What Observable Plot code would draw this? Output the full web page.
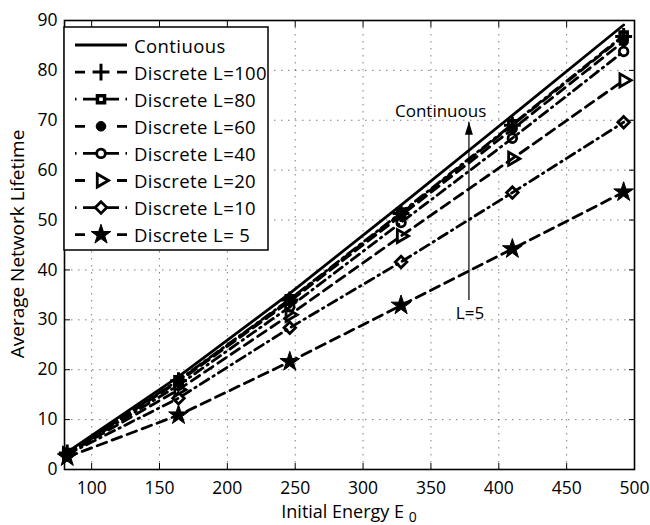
<!DOCTYPE html>
<html><head><meta charset="utf-8">
<script src="https://cdn.jsdelivr.net/npm/d3@7"></script>
<script src="https://cdn.jsdelivr.net/npm/@observablehq/plot@0.6"></script>
<style>body{margin:0;background:#fff;} #chart{width:650px;height:525px;}</style>
</head><body><div id="chart"></div>
<script>
// ---- data ----
const energy = [82, 164, 246, 328, 410, 492];
const continuous = [3.5, 18.6, 35.3, 53.0, 71.0, 89.1];
const discreteL100 = [3.3, 17.8, 34.0, 51.3, 69.0, 86.8];
const discreteL80 = [3.3, 17.9, 34.1, 51.5, 69.2, 87.0];
const discreteL60 = [3.3, 17.6, 33.7, 50.9, 68.2, 85.8];
const discreteL40 = [3.2, 16.9, 32.6, 49.5, 66.4, 83.8];
const discreteL20 = [3.1, 16.0, 31.0, 46.8, 62.3, 78.0];
const discreteL10 = [3.0, 14.3, 28.4, 41.6, 55.5, 69.6];
const discreteL5 = [2.5, 10.9, 21.6, 32.9, 44.2, 55.6];
const seriesNames = ["Contiuous", "Discrete L=100", "Discrete L=80", "Discrete L=60",
  "Discrete L=40", "Discrete L=20", "Discrete L=10", "Discrete L= 5"];
const seriesValues = [continuous, discreteL100, discreteL80, discreteL60,
  discreteL40, discreteL20, discreteL10, discreteL5];
const xTicks = [100, 150, 200, 250, 300, 350, 400, 450, 500];
const yTicks = [0, 10, 20, 30, 40, 50, 60, 70, 80, 90];
const arrowEnergy = [378];
const arrowFrom = [34];
const arrowTo = [69.7];
const noteTexts = ["Continuous", "L=5"];
const noteEnergy = [323.5, 378.8];
const noteValue = [71.8, 31.2];

// ---- styles ----
const DASH = "10,6", DASHDOT = "10,5,1.5,5";
const styles = [
  {dash: null, symbol: null},
  {dash: DASH, symbol: "plus", r: 5.5, fill: "none", sw: 3},
  {dash: DASHDOT, symbol: "square", r: 4, fill: "none", sw: 3.5},
  {dash: DASH, symbol: "circle", r: 4.8, fill: "black", sw: 1},
  {dash: DASHDOT, symbol: "circle", r: 4.3, fill: "none", sw: 2.8},
  {dash: DASH, symbol: "triangle", r: 4.8, fill: "none", sw: 2.8, rotate: 90},
  {dash: DASHDOT, symbol: "diamond2", r: 5.2, fill: "none", sw: 2.8},
  {dash: DASH, symbol: "star", r: 6.2, fill: "black", sw: 1}
];

const rows = seriesNames.map((name, i) => energy.map((e, j) => ({series: name, E0: e, value: seriesValues[i][j]})));
const notes = noteTexts.map((t, i) => ({text: t, x: noteEnergy[i], y: noteValue[i]}));
const arrows = arrowEnergy.map((x, i) => ({x, y1: arrowFrom[i], y2: arrowTo[i]}));
const arrowHead = {draw(ctx) { ctx.moveTo(0, 0); ctx.lineTo(-4, 13); ctx.lineTo(4, 13); ctx.closePath(); }};

const marks = [
  Plot.gridX(xTicks, {stroke: "black", strokeOpacity: 0.5, strokeDasharray: "1.5,5.5"}),
  Plot.gridY(yTicks, {stroke: "black", strokeOpacity: 0.5, strokeDasharray: "1.5,5.5"}),
  Plot.axisX(xTicks, {anchor: "bottom", tickSize: -6, tickPadding: 18, label: null, fontSize: 17.5}),
  Plot.axisX(xTicks, {anchor: "top", tickSize: -6, tickFormat: () => "", label: null}),
  Plot.axisY(yTicks, {anchor: "left", tickSize: -6, tickPadding: 13, label: null, fontSize: 17.5}),
  Plot.axisY(yTicks, {anchor: "right", tickSize: -6, tickFormat: () => "", label: null})
];
rows.forEach((data, i) => {
  const s = styles[i];
  marks.push(Plot.line(data, {x: "E0", y: "value", stroke: "black", strokeWidth: 2.8,
    strokeDasharray: s.dash}));
  if (s.symbol) marks.push(Plot.dot(data, {x: "E0", y: "value", symbol: s.symbol, r: s.r,
    fill: s.fill, stroke: "black", strokeWidth: s.sw, rotate: s.rotate || 0}));
});
marks.push(
  Plot.link(arrows, {x1: "x", x2: "x", y1: "y1", y2: "y2", stroke: "black", strokeWidth: 1.2}),
  Plot.dot(arrows, {x: "x", y: "y2", symbol: arrowHead, r: 5, fill: "black", stroke: "none"}),
  Plot.text(notes.slice(0, 1), {x: "x", y: "y", text: "text", textAnchor: "start", fontSize: 17}),
  Plot.text(notes.slice(1), {x: "x", y: "y", text: "text", textAnchor: "middle", fontSize: 17}),
  Plot.frame({stroke: "black", strokeWidth: 1.6})
);

const chart = Plot.plot({
  width: 650, height: 525,
  marginLeft: 64, marginRight: 16, marginTop: 20, marginBottom: 56,
  x: {domain: [80, 500]},
  y: {domain: [0, 90]},
  style: {fontFamily: "Open Sans", fontSize: "18px", color: "black", background: "white"},
  marks
});
document.getElementById("chart").appendChild(chart);

// ---- axis titles & legend (overlay) ----
const svg = d3.select(chart);
svg.append("text").attr("transform", "translate(17,244) rotate(-90)")
  .attr("text-anchor", "middle").attr("dominant-baseline", "central")
  .attr("font-family", "Open Sans").attr("font-size", 19).attr("fill", "black")
  .text("Average Network Lifetime");
const xl = svg.append("text").attr("x", 349).attr("y", 518).attr("text-anchor", "middle")
  .attr("font-family", "Open Sans").attr("font-size", 18).attr("fill", "black");
xl.append("tspan").text("Initial Energy E ");
xl.append("tspan").attr("font-size", 14).attr("dy", 4).text("0");

const symMap = {plus: d3.symbolPlus, square: d3.symbolSquare, circle: d3.symbolCircle,
  triangle: d3.symbolTriangle, diamond2: d3.symbolDiamond2, star: d3.symbolStar};
const lg = svg.append("g");
lg.append("rect").attr("x", 64).attr("y", 27).attr("width", 204).attr("height", 223)
  .attr("fill", "white").attr("stroke", "black").attr("stroke-width", 1.5);
seriesNames.forEach((name, i) => {
  const s = styles[i];
  const y = 45 + i * 27.1;
  lg.append("line").attr("x1", 75).attr("x2", 127).attr("y1", y).attr("y2", y)
    .attr("stroke", "black").attr("stroke-width", 2.8)
    .attr("stroke-dasharray", s.dash === null ? null : (s.dash === DASH ? "10,32,10" : "1.5,6.5,36,6.5,1.5"));
  if (s.symbol) {
    lg.append("path").attr("d", d3.symbol(symMap[s.symbol], Math.PI * s.r * s.r)())
      .attr("transform", `translate(101,${y}) rotate(${s.rotate || 0})`)
      .attr("fill", s.fill === "none" ? "white" : s.fill).attr("stroke", "black").attr("stroke-width", s.sw);
  }
  lg.append("text").attr("x", 134).attr("y", y).attr("dominant-baseline", "central")
    .attr("text-anchor", "start").attr("letter-spacing", 0.4)
    .attr("font-family", "Open Sans").attr("font-size", 18.5).attr("fill", "black").text(name);
});
</script>
</body></html>
